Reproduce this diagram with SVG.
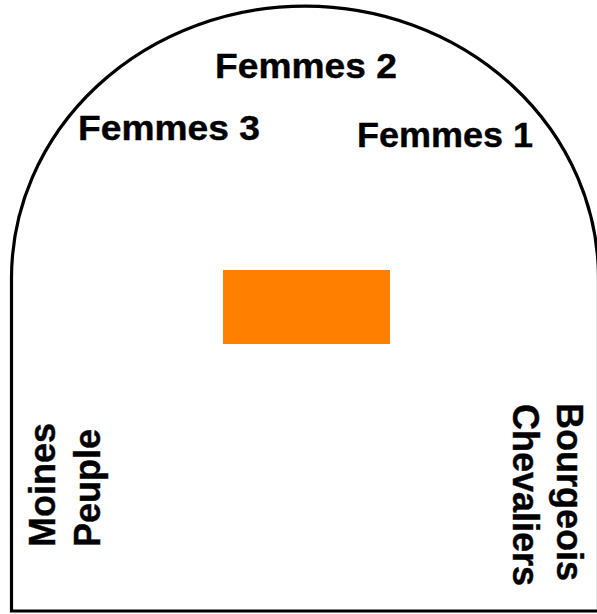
<svg xmlns="http://www.w3.org/2000/svg" width="597" height="614" viewBox="0 0 597 614">
  <style>
    .lbl { font-family: "Liberation Sans", Arial, Helvetica, sans-serif; font-weight: bold; font-size: 36px; fill: #000; stroke: #000; stroke-width: 0.4; }
    .fem { font-size: 35px; }
    .outline { fill: #fff; stroke: #000; stroke-width: 3.2; }
  </style>
  <rect width="597" height="614" fill="#fff"/>
  <g id="enclosure">
    <path class="outline" d="M 11.5 611 L 11.5 278 A 293.5 272 0 0 1 598.5 278 L 598.5 611 Z"/>
  </g>
  <g id="centre">
    <rect x="223" y="270" width="167" height="74" fill="#FF7F00"/>
  </g>
  <g id="femmes2"><text class="lbl fem" x="215" y="78" textLength="182" lengthAdjust="spacingAndGlyphs">Femmes 2</text></g>
  <g id="femmes3"><text class="lbl fem" x="78" y="140" textLength="182" lengthAdjust="spacingAndGlyphs">Femmes 3</text></g>
  <g id="femmes1"><text class="lbl fem" x="357" y="147" textLength="176" lengthAdjust="spacingAndGlyphs">Femmes 1</text></g>
  <g id="moines"><text class="lbl" transform="translate(55,547) rotate(-90)">Moines</text></g>
  <g id="peuple"><text class="lbl" transform="translate(100,547) rotate(-90)">Peuple</text></g>
  <g id="bourgeois"><text class="lbl" transform="translate(557,403) rotate(90)">Bourgeois</text></g>
  <g id="chevaliers"><text class="lbl" transform="translate(513,404) rotate(90)">Chevaliers</text></g>
  <g id="connectors"></g>
</svg>
